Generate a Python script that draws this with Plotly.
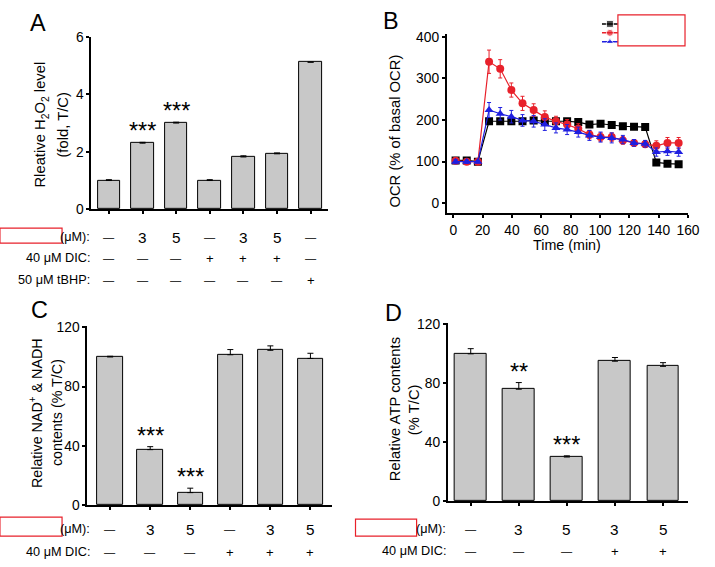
import plotly.graph_objects as go

FONT = "Arial, Liberation Sans, sans-serif"
W, H = 715, 567

# ---------------- Data ----------------
# Panel A
a_vals = [1.0, 2.3, 3.0, 1.0, 1.82, 1.93, 5.12]
a_err = [0.03, 0.03, 0.03, 0.03, 0.04, 0.03, 0.0]
a_conc = ["—", "3", "5", "—", "3", "5", "—"]
a_dic = ["—", "—", "—", "+", "+", "+", "—"]
a_tbhp = ["—", "—", "—", "—", "—", "—", "+"]
a_stars = ["", "***", "***", "", "", "", ""]

# Panel B
b_time = [1.6, 9.2, 16.8, 24.4, 32.0, 39.6, 47.2, 54.8, 62.4, 70.0, 77.6,
          85.2, 92.8, 100.4, 108.0, 115.6, 123.2, 130.8, 138.4, 146.0, 153.6]
b_black = [103, 103, 100, 197, 197, 197, 197, 199, 197, 197, 197,
           195, 189, 191, 188, 185, 184, 183, 98, 95, 94]
b_black_err = [4, 3, 3, 4, 4, 4, 4, 4, 3, 3, 3, 3, 3, 3, 3, 3, 3, 3, 4, 4, 4]
b_red = [102, 100, 100, 340, 323, 272, 240, 224, 207, 197, 189,
         179, 165, 159, 159, 151, 145, 142, 138, 145, 145]
b_red_err = [5, 4, 3, 28, 22, 17, 17, 15, 15, 12, 12, 12, 10, 10, 10, 9, 8, 8, 12, 13, 13]
b_blue = [100, 100, 100, 224, 215, 208, 199, 197, 189, 181, 177,
          171, 163, 159, 157, 153, 145, 143, 123, 125, 123]
b_blue_err = [5, 4, 3, 18, 15, 15, 14, 14, 14, 12, 12, 12, 12, 12, 12, 10, 8, 8, 10, 10, 10]
b_tick_vals = [0, 20, 40, 60, 80, 100, 120, 140, 160]

# Panel C
c_vals = [100, 37.5, 8.5, 101.5, 104.5, 99]
c_err = [0.5, 2, 3, 3.5, 3, 3.5]
c_conc = ["—", "3", "5", "—", "3", "5"]
c_dic = ["—", "—", "—", "+", "+", "+"]
c_stars = ["", "***", "***", "", "", ""]

# Panel D
d_vals = [100, 76, 30, 95, 91.5]
d_err = [3.5, 4.5, 0.8, 2.5, 2.5]
d_conc = ["—", "3", "5", "3", "5"]
d_dic = ["—", "—", "—", "+", "+"]
d_stars = ["", "**", "***", "", ""]

BAR_FILL = "#c8c8c8"
RED = "#e8212b"
BLUE = "#1f1fe0"

# the photographed page shows the figure slightly scaled; map target pixels
SX, OX = 0.9817, 0.04
SY, OY = 0.9769, 6.05


def px(x):
    return ((x - OX) / SX) / W


def py(y):
    return 1 - ((y - OY) / SY) / H


def fs(s):
    return round(s / SX, 1)


fig = go.Figure()


def add_bars(vals, err, xa, ya, width):
    fig.add_trace(go.Bar(
        x=list(range(len(vals))), y=vals, width=width,
        marker=dict(color=BAR_FILL, line=dict(color="black", width=1)),
        error_y=dict(type="data", array=err, arrayminus=[0] * len(err),
                     symmetric=False, color="black", thickness=1, width=3),
        xaxis=xa, yaxis=ya, showlegend=False,
    ))


add_bars(a_vals, a_err, "x", "y", 0.67)
add_bars(c_vals, c_err, "x3", "y3", 0.63)
add_bars(d_vals, d_err, "x4", "y4", 0.66)

# Panel B lines
for vals, errs, col, sym in [
    (b_black, b_black_err, "black", "square"),
    (b_red, b_red_err, RED, "circle"),
    (b_blue, b_blue_err, BLUE, "triangle-up"),
]:
    fig.add_trace(go.Scatter(
        x=b_time, y=vals, mode="lines+markers",
        line=dict(color=col, width=1.2),
        marker=dict(color=col, symbol=sym, size=8),
        error_y=dict(type="data", array=errs, color=col, thickness=1, width=2),
        xaxis="x2", yaxis="y2", showlegend=False,
    ))

# Legend keys for panel B (drawn on a small helper axis)
legend_cols = ["black", RED, BLUE]
legend_syms = ["square", "circle", "triangle-up"]
legend_rows = [2.5, 1.5, 0.5]
for col, sym, row in zip(legend_cols, legend_syms, legend_rows):
    fig.add_trace(go.Scatter(
        x=[0, 1, 2], y=[row, row, row], mode="lines+markers",
        line=dict(color=col, width=1.5),
        marker=dict(color=col, symbol=sym, size=[0, 7, 0]),
        xaxis="x5", yaxis="y5", showlegend=False, hoverinfo="skip",
    ))

axis_common = dict(showline=True, linecolor="black", linewidth=1.5,
                   ticks="outside", ticklen=3, tickwidth=1.5, tickcolor="black",
                   showgrid=False, zeroline=False,
                   tickfont=dict(family=FONT, size=fs(13.5), color="black"))

fig.update_layout(
    width=W, height=H,
    margin=dict(l=0, r=0, t=0, b=0),
    paper_bgcolor="white", plot_bgcolor="white",
    font=dict(family=FONT, color="black"),
    bargap=0,
    xaxis=dict(domain=[px(91), px(328)], range=[-0.53, 6.53],
               tickvals=list(range(len(a_vals))), showticklabels=False,
               anchor="y", **axis_common),
    yaxis=dict(domain=[py(209), py(36)], range=[0, 6], dtick=2,
               anchor="x", **axis_common),
    xaxis2=dict(domain=[px(446), px(687)], range=[-4.5, 160],
                tickvals=b_tick_vals, anchor="y2", **axis_common),
    yaxis2=dict(domain=[py(213), py(33)], range=[-24, 407],
                tickvals=[0, 100, 200, 300, 400], anchor="x2", **axis_common),
    xaxis3=dict(domain=[px(87), px(332)], range=[-0.575, 5.55],
                tickvals=list(range(len(c_vals))), showticklabels=False,
                anchor="y3", **axis_common),
    yaxis3=dict(domain=[py(506), py(326)], range=[0, 121], dtick=40,
                anchor="x3", **axis_common),
    xaxis4=dict(domain=[px(447), px(687)], range=[-0.48, 4.52],
                tickvals=list(range(len(d_vals))), showticklabels=False,
                anchor="y4", **axis_common),
    yaxis4=dict(domain=[py(502), py(323)], range=[0, 121], dtick=40,
                anchor="x4", **axis_common),
    xaxis5=dict(domain=[px(601), px(617)], range=[0, 2], visible=False, anchor="y5"),
    yaxis5=dict(domain=[py(45.5), py(18.5)], range=[0, 3], visible=False, anchor="x5"),
)

ann = []


def text(x, y, s, size, xref="paper", yref="paper", xanchor="center",
         yanchor="middle", angle=0, yshift=0):
    ann.append(dict(x=x, y=y, xref=xref, yref=yref, text=s, showarrow=False,
                    xanchor=xanchor, yanchor=yanchor, textangle=angle,
                    yshift=yshift,
                    font=dict(family=FONT, size=fs(size), color="black")))


# Panel letters
text(px(38), py(22), "A", 23)
text(px(390), py(20), "B", 23)
text(px(39), py(310), "C", 23)
text(px(393), py(313), "D", 23)

# Axis titles (each line placed separately)
text(px(41), py(124), "Rleative H<sub>2</sub>O<sub>2</sub> level", 14.5, angle=-90)
text(px(62), py(124), "(fold, T/C)", 14.5, angle=-90)
text(px(393.5), py(131), "OCR (% of basal OCR)", 14.5, angle=-90)
text(px(566), py(245), "Time (min)", 14)
text(px(35.5), py(414), "Relative NAD<sup>+</sup> &amp; NADH", 14, angle=-90)
text(px(56.5), py(413), "contents (% T/C)", 14, angle=-90)
text(px(394), py(410), "Relative ATP contents", 14.5, angle=-90)
text(px(413), py(410), "(% T/C)", 14.5, angle=-90)


def cell_size(s):
    if s == "—":
        return 11
    if s == "+":
        return 13
    return 15


def rows(label_right, rowdefs, xref):
    for label, ypix, cells in rowdefs:
        text(px(label_right), py(ypix), label, 12.5, xanchor="right")
        for i, s in enumerate(cells):
            text(i, py(ypix), s, cell_size(s), xref=xref)


rows(92, [("(μM):", 237, a_conc), ("40 μM DIC:", 258, a_dic),
          ("50 μM tBHP:", 280, a_tbhp)], "x")
rows(92, [("(μM):", 530, c_conc), ("40 μM DIC:", 553, c_dic)], "x3")
rows(447, [("(μM):", 530, d_conc), ("40 μM DIC:", 552, d_dic)], "x4")


def stars(labels, vals, errs, xref, yref):
    for i, (s, v, e) in enumerate(zip(labels, vals, errs)):
        if s:
            text(i, v + e, s, 23, xref=xref, yref=yref, yanchor="bottom", yshift=-4)


stars(a_stars, a_vals, a_err, "x", "y")
stars(c_stars, c_vals, c_err, "x3", "y3")
stars(d_stars, d_vals, d_err, "x4", "y4")

fig.update_layout(annotations=ann)

# Redaction boxes (red outlines as in the reference)
boxes = [(0, 228, 62, 243), (0, 518, 62, 537), (355, 520, 416, 537), (617, 14, 684, 45)]
for x0, y0, x1, y1 in boxes:
    fig.add_shape(type="rect", xref="paper", yref="paper",
                  x0=px(x0), x1=px(x1), y0=py(y1), y1=py(y0),
                  line=dict(color=RED, width=1.2), fillcolor="white", layer="above")

fig.write_html("out.html", config={"displayModeBar": False},
               post_script="document.body.style.margin='0';document.body.style.overflow='hidden';")
